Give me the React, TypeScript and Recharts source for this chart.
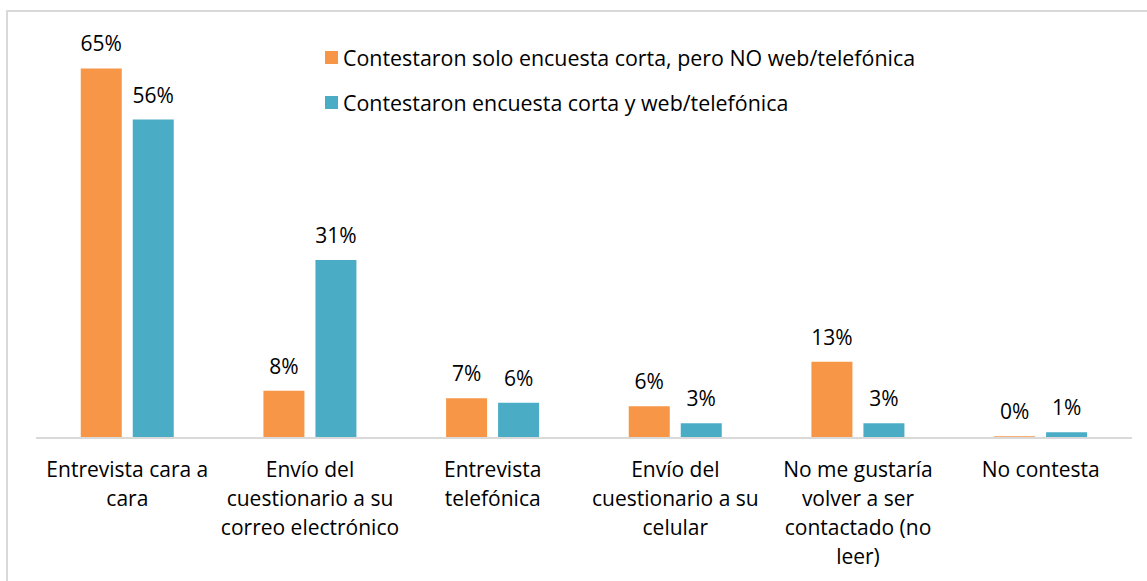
import { BarChart, Bar, XAxis, YAxis, Legend, LabelList } from "recharts";

const categories = [
  "Entrevista cara a cara",
  "Envío del cuestionario a su correo electrónico",
  "Entrevista telefónica",
  "Envío del cuestionario a su celular",
  "No me gustaría volver a ser contactado (no leer)",
  "No contesta",
];

// how each category label wraps under the axis
const tickLines = [
  ["Entrevista cara a", "cara"],
  ["Envío del", "cuestionario a su", "correo electrónico"],
  ["Entrevista", "telefónica"],
  ["Envío del", "cuestionario a su", "celular"],
  ["No me gustaría", "volver a ser", "contactado (no", "leer)"],
  ["No contesta"],
];

const soloCorta = [65.0, 8.3, 7.0, 5.6, 13.4, 0.3];
const cortaYWeb = [56.0, 31.3, 6.2, 2.6, 2.6, 1.0];

const seriesNames = [
  "Contestaron solo encuesta corta, pero NO web/telefónica",
  "Contestaron encuesta corta y web/telefónica",
];
const colors = ["#F79646", "#4BACC6"];

const data = categories.map((name, i) => ({
  name,
  idx: i,
  a: soloCorta[i],
  b: cortaYWeb[i],
}));

const FONT = "'Open Sans', sans-serif";

const CategoryTick = (props: any) => {
  const { x, y, payload } = props;
  const lines = tickLines[payload.index] || [payload.value];
  return (
    <text
      x={x}
      y={y}
      textAnchor="middle"
      fontFamily={FONT}
      fontSize={21}
      fill="#000"
    >
      {lines.map((l, i) => (
        <tspan key={i} x={x} dy={i === 0 ? 31 : 29}>
          {l}
        </tspan>
      ))}
    </text>
  );
};

const LegendBox = () => (
  <div style={{ fontFamily: FONT, fontSize: 21.4, color: "#000" }}>
    {seriesNames.map((s, i) => (
      <div
        key={s}
        style={{
          display: "flex",
          alignItems: "center",
          height: 45,
          lineHeight: "21px",
        }}
      >
        <span
          style={{
            display: "inline-block",
            width: 13,
            height: 13,
            background: colors[i],
            marginRight: 5,
          }}
        />
        <span>{s}</span>
      </div>
    ))}
  </div>
);

const pct = (v: any) => `${Math.round(Number(v))}%`;

export default function App() {
  return (
    <div
      style={{
        position: "fixed",
        left: 0,
        top: 0,
        width: 1147,
        height: 581,
        overflow: "hidden",
        background: "#fff",
      }}
    >
      <div
        style={{
          position: "absolute",
          left: 6,
          top: 10,
          width: 1160,
          height: 620,
          border: "2px solid #D9D9D9",
        }}
      />
      <div style={{ position: "absolute", left: 0, top: 0 }}>
        <BarChart
          width={1147}
          height={581}
          data={data}
          margin={{ top: 40, right: 15, bottom: 13, left: 36 }}
          barCategoryGap="24.5%"
          barGap={11}
        >
          <XAxis
            dataKey="name"
            height={130}
            tickLine={false}
            axisLine={{ stroke: "#D9D9D9", strokeWidth: 2 }}
            tick={<CategoryTick />}
            interval={0}
          />
          <YAxis hide domain={[0, 70]} />
          <Legend
            layout="vertical"
            align="center"
            verticalAlign="middle"
            wrapperStyle={{ top: 35, left: 325, width: 700 }}
            content={<LegendBox />}
          />
          <Bar dataKey="a" fill={colors[0]} isAnimationActive={false}>
            <LabelList
              dataKey="a"
              position="top"
              offset={17}
              formatter={pct}
              style={{ fontFamily: FONT, fontSize: 21, fill: "#000" }}
            />
          </Bar>
          <Bar dataKey="b" fill={colors[1]} isAnimationActive={false}>
            <LabelList
              dataKey="b"
              position="top"
              offset={17}
              formatter={pct}
              style={{ fontFamily: FONT, fontSize: 21, fill: "#000" }}
            />
          </Bar>
        </BarChart>
      </div>
    </div>
  );
}
